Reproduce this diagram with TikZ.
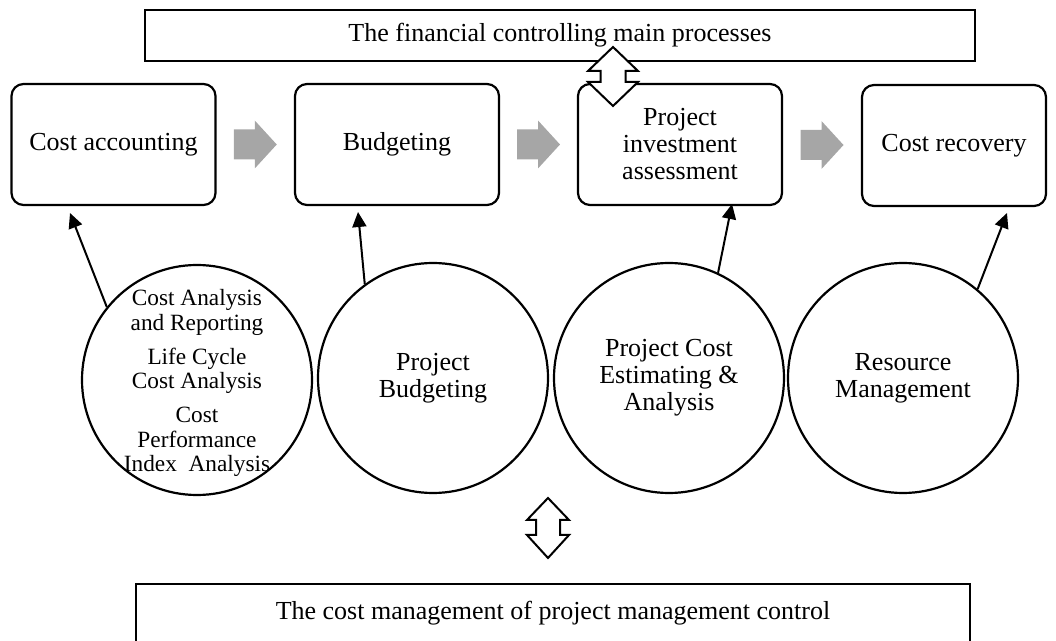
\documentclass[tikz,border=0pt]{standalone}
\usepackage{fontspec}
\setmainfont{Liberation Serif}
\usetikzlibrary{arrows.meta, calc}
\definecolor{arrgray}{HTML}{A6A6A6}

\tikzset{
  procbox/.style={draw, line width=1.1pt, rounded corners=6pt, align=center,
    minimum width=102pt, minimum height=60.5pt, inner sep=2pt,
    font=\fontsize{13}{13.5}\selectfont},
  bubble/.style={draw, circle, line width=1.1pt, minimum size=115pt,
    inner sep=0pt, align=center, font=\fontsize{13}{13.5}\selectfont},
  titlebox/.style={draw, line width=1.1pt, minimum width=415pt,
    minimum height=25.5pt, font=\fontsize{13}{13.5}\selectfont},
  blockarrow/.style={draw, fill=white, line width=1pt, line join=miter},
}

\begin{document}
\begin{tikzpicture}[x=0.5pt, y=-0.5pt, >={Triangle[length=7.5pt, width=7pt]}]

% Page frame
\clip (0,0) rectangle (1056,641);

% Top frame
\node[titlebox] (fcmain) at (560,35.5) {The financial controlling main processes};

% ============================================================
% Process boxes
% ============================================================
\node[procbox] (costacc) at (113.5,144.5) {Cost accounting};
\node[procbox] (budget)  at (397,144.5)   {Budgeting};
\node[procbox] (invest)  at (680,144.5)   {Project\\investment\\assessment};
\node[procbox, minimum width=92pt] (recov) at (954,145.5) {Cost recovery};

% Gray block arrows between the boxes
\foreach \lb/\rb in {costacc/budget, budget/invest, invest/recov} {
  \path ($(\lb.east)!0.5!(\rb.west)$) coordinate (mid);
  \fill[arrgray] (mid) ++(-21.5,-15) -- ++(21,0) -- ++(0,-9) -- ++(22,24)
    -- ++(-22,24) -- ++(0,-9) -- ++(-21,0) -- cycle;
}

% Double arrow: main processes <-> boxes
\draw[blockarrow] (613,47) -- (638,71) -- (625.5,71) -- (625.5,82) -- (638,82)
  -- (613,106) -- (588,82) -- (600.5,82) -- (600.5,71) -- (588,71) -- cycle;

% ============================================================
% Circles
% ============================================================
\node[bubble] (cpa) at (197,380) {};
\node[align=center, font=\fontsize{11.65}{12.25}\selectfont] (cpatext) at (197,383)
  {Cost Analysis\\and Reporting\\[4.75pt]Life Cycle\\Cost Analysis\\[4.75pt]Cost\\Performance\\Index\ \ Analysis};
\node[bubble] (pbud)    at (433,378) {Project\\Budgeting};
\node[bubble] (pcest)   at (669,378) {Project Cost\\Estimating \&\\Analysis};
\node[bubble] (resmgmt) at (903,378) {Resource\\Management};

% Arrow ends below the boxes
\coordinate (t1) at (70,213);
\coordinate (t2) at (358,212);
\coordinate (t3) at (732,204);
\coordinate (t4) at (1007,213);

\draw[->, line width=1pt] (cpa.141) -- (t1);
\draw[->, line width=1pt] (pbud.126) -- (t2);
\draw[->, line width=1pt] (pcest.65) -- (t3);
\draw[->, line width=1pt] (resmgmt.50) -- (t4);

% Double arrow: circles <-> cost management
\draw[blockarrow] (548,498) -- (569,520) -- (560,520) -- (560,535) -- (569,535)
  -- (548,558) -- (527,535) -- (536,535) -- (536,520) -- (527,520) -- cycle;

% Bottom frame (runs past the lower edge)
\node[titlebox, minimum width=417pt, minimum height=0pt, anchor=north,
  inner ysep=8.5pt, text depth=20pt] (costctrl) at (553,583)
  {The cost management of project management control};

\end{tikzpicture}
\end{document}
